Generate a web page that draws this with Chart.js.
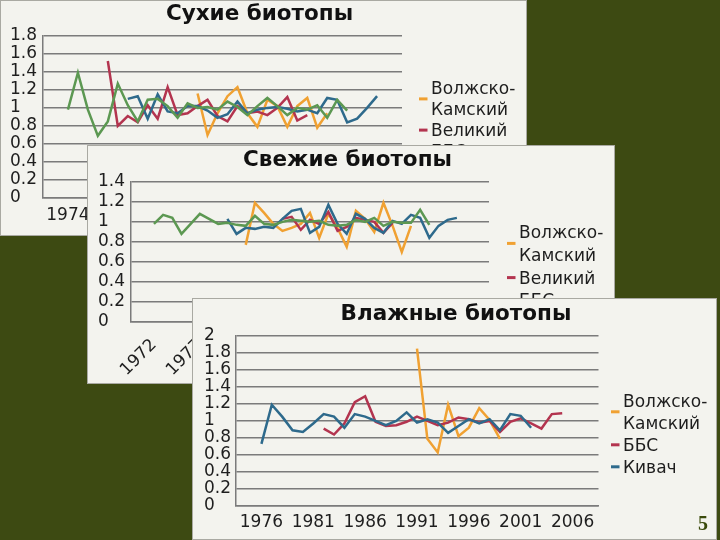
<!DOCTYPE html>
<html>
<head>
<meta charset="utf-8">
<script src="https://cdn.jsdelivr.net/npm/chart.js@4.4.1/dist/chart.umd.min.js"></script>
<style>
  html, body { margin: 0; padding: 0; }
  body { width: 720px; height: 540px; background: #3d4a12; position: relative; overflow: hidden; }
  .panel { position: absolute; background: #f3f3ee; box-shadow: inset 0 0 0 1px #a9a9a2; }
  .panel canvas { position: absolute; left: 0; top: 0; }
  #p1 { left: 0; top: 0; width: 527px; height: 236px; z-index: 1; }
  #p2 { left: 87px; top: 145px; width: 528px; height: 239px; z-index: 2; }
  #p3 { left: 192px; top: 298px; width: 525px; height: 242px; z-index: 3; }
  .slide-no { position: absolute; left: 698px; top: 513px; z-index: 4; font: bold 20px/20px "Liberation Serif", serif; color: #3a4a0c; }
</style>
</head>
<body>
<div class="panel" id="p1"><canvas id="dryChart" width="527" height="236"></canvas></div>
<div class="panel" id="p2"><canvas id="freshChart" width="528" height="239"></canvas></div>
<div class="panel" id="p3"><canvas id="wetChart" width="525" height="242"></canvas></div>
<div class="slide-no">5</div>

<script>
// Сухие биотопы
const dryYears = [1972, 1973, 1974, 1975, 1976, 1977, 1978, 1979, 1980, 1981, 1982, 1983,
  1984, 1985, 1986, 1987, 1988, 1989, 1990, 1991, 1992, 1993, 1994, 1995,
  1996, 1997, 1998, 1999, 2000, 2001, 2002, 2003, 2004, 2005, 2006, 2007];
const dryVolga = [null, null, null, null, null, null, null, null, null, null, null, null, null, null, null,
  1.16, 0.70, 0.94, 1.13, 1.23, 0.94, 0.79, 1.09, 1.02, 0.79, 1.02, 1.11, 0.78, 0.94,
  null, null, null, null, null, null, null];
const dryVeliky = [null, null, null, null, null, null,
  1.52, 0.80, 0.91, 0.84, 1.03, 0.88, 1.23, 0.92, 0.94, 1.02, 1.09, 0.91, 0.85, 1.02,
  0.94, 0.96, 0.92, 1.00, 1.12, 0.86, 0.92,
  null, null, null, null, null, null, null, null, null];
const dryBBS = [null, null, null, null, null, null, null, null,
  1.10, 1.13, 0.88, 1.15, 0.96, 0.94, 1.02, 1.02, 0.97, 0.89, 0.93, 1.07, 0.94,
  0.98, 1.00, 1.01, 0.99, 0.96, 0.98, 0.94, 1.11, 1.09, 0.84, 0.88, 1.00, 1.13,
  null, null];
const dryKivach = [null, null,
  0.98, 1.39, 0.98, 0.69, 0.85, 1.27, 1.03, 0.85, 1.09, 1.10, 1.02, 0.89, 1.05,
  1.00, 1.01, 0.98, 1.07, 1.01, 0.92, 1.02, 1.11, 1.02, 0.92, 1.00, 0.98, 1.03,
  0.89, 1.09, 0.97,
  null, null, null, null, null];

// Свежие биотопы
const freshYears = [1970, 1971, 1972, 1973, 1974, 1975, 1976, 1977, 1978, 1979, 1980, 1981, 1982,
  1983, 1984, 1985, 1986, 1987, 1988, 1989, 1990, 1991, 1992, 1993, 1994, 1995,
  1996, 1997, 1998, 1999, 2000, 2001, 2002, 2003, 2004, 2005, 2006, 2007, 2008];
const freshVolga = [null, null, null, null, null, null, null, null, null, null, null, null,
  0.77, 1.19, 1.09, 0.98, 0.91, 0.94, 0.98, 1.09, 0.84, 1.08, 0.94, 0.75, 1.11,
  1.03, 0.90, 1.19, 0.96, 0.70, 0.96,
  null, null, null, null, null, null, null, null];
const freshVeliky = [null, null, null, null, null, null, null, null, null, null, null, null, null, null, null, null,
  1.03, 1.05, 0.92, 1.02, 0.98, 1.10, 0.91, 0.95, 1.04, 1.02, 1.00, 0.89, 0.99,
  null, null, null, null, null, null, null, null, null, null];
const freshBBS = [null, null, null, null, null, null, null, null, null, null,
  1.03, 0.88, 0.94, 0.93, 0.95, 0.94, 1.03, 1.11, 1.13, 0.89, 0.95, 1.17, 0.98,
  0.88, 1.08, 1.03, 0.94, 0.89, 1.01, 0.98, 1.07, 1.04, 0.84, 0.96, 1.02, 1.04,
  null, null, null];
const freshKivach = [null, null,
  0.98, 1.07, 1.04, 0.88, 0.98, 1.08, 1.03, 0.98, 0.99, 0.97, 0.96, 1.06, 0.98,
  0.97, 1.00, 1.02, 1.01, 1.00, 1.01, 0.97, 0.96, 0.97, 1.02, 1.00, 1.04, 0.96,
  1.00, 0.99, 0.99, 1.12, 0.97,
  null, null, null, null, null, null];

// Влажные биотопы
const wetYears = [1974, 1975, 1976, 1977, 1978, 1979, 1980, 1981, 1982, 1983, 1984, 1985,
  1986, 1987, 1988, 1989, 1990, 1991, 1992, 1993, 1994, 1995, 1996, 1997,
  1998, 1999, 2000, 2001, 2002, 2003, 2004, 2005, 2006, 2007, 2008];
const wetVolga = [null, null, null, null, null, null, null, null, null, null, null, null, null, null, null, null, null,
  1.85, 0.79, 0.63, 1.19, 0.82, 0.92, 1.15, 1.01, 0.79,
  null, null, null, null, null, null, null, null, null];
const wetBBS = [null, null, null, null, null, null, null, null,
  0.91, 0.84, 0.97, 1.22, 1.29, 0.99, 0.94, 0.95, 0.99, 1.05, 1.00, 0.95,
  0.98, 1.04, 1.02, 0.98, 1.00, 0.87, 0.99, 1.03, 0.97, 0.91, 1.08, 1.09,
  null, null, null];
const wetKivach = [null, null,
  0.73, 1.19, 1.05, 0.89, 0.87, 0.97, 1.08, 1.05, 0.92, 1.08, 1.05, 1.00, 0.95,
  1.00, 1.10, 0.98, 1.02, 0.98, 0.86, 0.94, 1.02, 0.97, 1.02, 0.89, 1.08, 1.06, 0.92,
  null, null, null, null, null, null];

const yMaxDry = 1.8, yMaxFresh = 1.4, yMaxWet = 2;
const yStep = 0.2;

const ORANGE = '#f0a132', RED = '#b3344f', BLUE = '#2e6a8c', GREEN = '#5c9852';
const GRID = '#7b7b7b', TEXT = '#1e1e1e';
const FONT = '"DejaVu Sans", sans-serif';

Chart.defaults.font.family = FONT;
Chart.defaults.color = TEXT;

// legend at the right side, labels wrap after the hyphen like the original
const sideKey = {
  id: 'sideKey',
  afterDraw(chart, args, opts) {
    const ctx = chart.ctx;
    ctx.save();
    ctx.font = '17px ' + FONT;
    ctx.textBaseline = 'middle';
    ctx.textAlign = 'left';
    let y = opts.y;
    chart.data.datasets.forEach(function (ds) {
      const lines = ds.label.replace('-', '-\n').split('\n');
      const my = y + (lines.length - 1) * opts.row / 2 - 1.5;
      ctx.strokeStyle = ds.borderColor;
      ctx.lineWidth = 3;
      ctx.beginPath();
      ctx.moveTo(opts.x - 12, my);
      ctx.lineTo(opts.x - 3.5, my);
      ctx.stroke();
      ctx.fillStyle = TEXT;
      lines.forEach(function (t, k) { ctx.fillText(t, opts.x, y + k * opts.row); });
      y += lines.length * opts.row;
    });
    ctx.restore();
  }
};

function series(label, data, color, order) {
  return { label: label, data: data, borderColor: color, backgroundColor: color, order: order,
    borderWidth: 2.5, pointRadius: 0, tension: 0, spanGaps: false };
}

function makeChart(id, c) {
  return new Chart(document.getElementById(id), {
    type: 'line',
    data: { labels: c.years, datasets: c.datasets },
    plugins: [sideKey],
    options: {
      responsive: false,
      animation: false,
      layout: { padding: { left: c.padLeft, right: c.padRight, top: 0, bottom: 0 } },
      plugins: {
        legend: { display: false },
        tooltip: { enabled: false },
        title: {
          display: true, text: c.title, color: '#111',
          font: { size: 21.5, weight: 'bold', family: FONT, lineHeight: 1.2 },
          padding: { top: c.titleTop, bottom: c.titleBottom }
        },
        sideKey: c.key
      },
      scales: {
        x: {
          offset: true,
          grid: { display: false, drawTicks: false },
          border: { color: GRID, width: 1.5 },
          ticks: {
            autoSkip: false, maxRotation: c.rotation, minRotation: c.rotation,
            padding: c.xPad, color: TEXT, font: { size: 17 },
            callback: function (value) {
              const yr = this.getLabelForValue(value);
              return (yr - c.firstLabel) % c.every === 0 ? String(yr) : '';
            }
          },
          afterFit: function (s) { s.height = c.xHeight; }
        },
        y: {
          min: 0, max: c.yMax,
          grid: { color: GRID, lineWidth: 1.5, drawTicks: false },
          border: { color: GRID, width: 1.5 },
          ticks: {
            stepSize: yStep, autoSkip: false, crossAlign: 'far', padding: 0, color: TEXT, font: { size: 17 },
            callback: function (v) { return String(Math.round(v * 10) / 10); }
          },
          afterFit: function (s) { s.width = c.yWidth; }
        },
        keySpace: {
          position: 'right',
          ticks: { display: false },
          grid: { display: false },
          border: { display: false },
          afterFit: function (s) { s.width = c.keyWidth; }
        }
      }
    }
  });
}

makeChart('dryChart', {
  title: 'Сухие биотопы', years: dryYears, yMax: yMaxDry,
  datasets: [
    series('Волжско-Камский', dryVolga, ORANGE, 4),
    series('Великий', dryVeliky, RED, 3),
    series('ББС', dryBBS, BLUE, 2),
    series('Кивач', dryKivach, GREEN, 1)
  ],
  padLeft: 10, padRight: 18, yWidth: 33, keyWidth: 107,
  titleTop: 2, titleBottom: 8, xHeight: 38, xPad: 7, rotation: 0, firstLabel: 1974, every: 5,
  key: { x: 431, y: 90, row: 20.8 }
});

makeChart('freshChart', {
  title: 'Свежие биотопы', years: freshYears, yMax: yMaxFresh,
  datasets: [
    series('Волжско-Камский', freshVolga, ORANGE, 4),
    series('Великий', freshVeliky, RED, 3),
    series('ББС', freshBBS, BLUE, 2),
    series('Кивач', freshKivach, GREEN, 1)
  ],
  padLeft: 11, padRight: 18, yWidth: 33, keyWidth: 108,
  titleTop: 3, titleBottom: 8, xHeight: 62, xPad: 13, rotation: 45, firstLabel: 1972, every: 5,
  key: { x: 432, y: 88.5, row: 22.8 }
});

makeChart('wetChart', {
  title: 'Влажные биотопы', years: wetYears, yMax: yMaxWet,
  datasets: [
    series('Волжско-Камский', wetVolga, ORANGE, 3),
    series('ББС', wetBBS, RED, 2),
    series('Кивач', wetKivach, BLUE, 1)
  ],
  padLeft: 12, padRight: 9, yWidth: 31.5, keyWidth: 109.5,
  titleTop: 4, titleBottom: 8, xHeight: 34, xPad: 6, rotation: 0, firstLabel: 1976, every: 5,
  key: { x: 431, y: 104.3, row: 22 }
});
</script>
</body>
</html>
